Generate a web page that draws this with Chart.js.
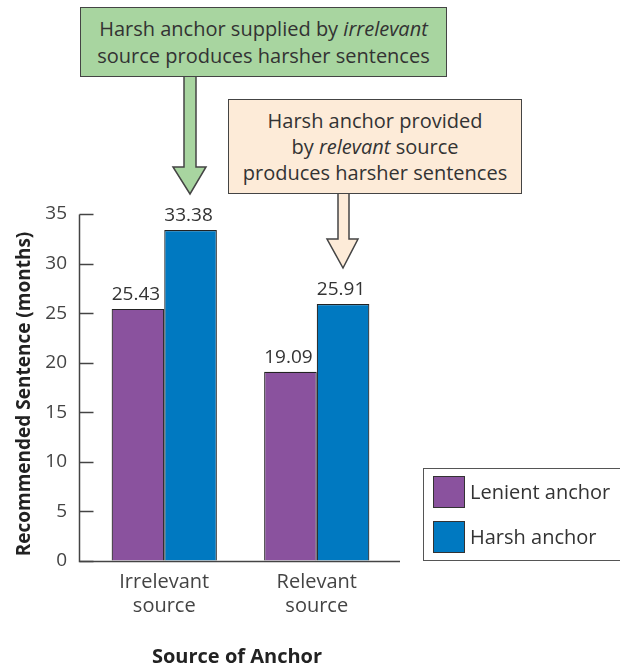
<!DOCTYPE html>
<html>
<head>
<meta charset="utf-8">
<script src="https://cdn.jsdelivr.net/npm/chart.js@4"></script>
<style>
html,body{margin:0;padding:0;background:#fff;}
#wrap{position:relative;width:620px;height:668px;overflow:hidden;font-family:"Open Sans",Lato,sans-serif;color:#333;}
canvas{position:absolute;left:0;top:0;}
.box{position:absolute;box-sizing:border-box;border:1.5px solid #444;text-align:center;font-size:20px;color:#333;white-space:nowrap;}
#legend{position:absolute;left:423px;top:468px;width:220px;height:93px;box-sizing:border-box;border:1.5px solid #555;background:#fff;}
.li{position:absolute;left:9px;height:32px;font-size:20px;line-height:32px;color:#333;white-space:nowrap;}
.sw{display:inline-block;width:32px;height:32px;box-sizing:border-box;border:1px solid #333;vertical-align:top;margin-right:5px;}
svg{position:absolute;left:0;top:0;}
</style>
</head>
<body>
<div id="wrap">
<canvas id="c" width="620" height="668"></canvas>
<svg width="620" height="668">
  <polygon points="184,76 196,76 196,167 206,167 190,194 173,167 184,167" fill="#A8D5A0" stroke="#444" stroke-width="1.5"/>
  <polygon points="338,193 349,193 349,239 358,239 343,268 327,239 338,239" fill="#FDEBD8" stroke="#444" stroke-width="1.5"/>
</svg>
<div class="box" style="left:80px;top:7px;width:367px;height:70px;background:#A8D5A0;padding-top:7px;line-height:27px;">Harsh anchor supplied by <i>irrelevant</i><br>source produces harsher sentences</div>
<div class="box" style="left:228px;top:99px;width:294px;height:95px;background:#FDEBD8;padding-top:8px;line-height:26px;">Harsh anchor provided<br>by <i>relevant</i> source<br>produces harsher sentences</div>
<div id="legend"></div>
</div>
<script>
const categories = [["Irrelevant","source"],["Relevant","source"]];
const seriesNames = ["Lenient anchor","Harsh anchor"];
const lenientValues = [25.43, 19.09];
const harshValues = [33.38, 25.91];
const seriesColors = ["#8A529E","#0079C1"];
const yTicks = [0,5,10,15,20,25,30,35];
const xTitle = "Source of Anchor";
const yTitle = "Recommended Sentence (months)";

const FONT = '"Open Sans", Lato, sans-serif';

const axesPlugin = {
  id:'axesPlugin',
  afterDraw(chart){
    const y = chart.scales.y, ctx = chart.ctx;
    const ax = 79.5, xEnd = 400;
    const y0 = Math.round(y.getPixelForValue(0))+0.5;
    const yTop = Math.round(y.getPixelForValue(35))+0.5;
    ctx.save();
    ctx.strokeStyle = '#444'; ctx.lineWidth = 1.5;
    ctx.beginPath(); ctx.moveTo(ax, yTop); ctx.lineTo(ax, y0); ctx.lineTo(xEnd, y0); ctx.stroke();
    yTicks.forEach(v=>{
      const py = Math.round(y.getPixelForValue(v))+0.5;
      ctx.beginPath(); ctx.moveTo(ax, py); ctx.lineTo(ax+14, py); ctx.stroke();
    });
    ctx.font = 'bold 20px ' + FONT; ctx.fillStyle = '#222';
    ctx.textAlign = 'center'; ctx.textBaseline = 'alphabetic';
    ctx.fillText(xTitle, 237, 663);
    ctx.save();
    ctx.translate(25, 394); ctx.rotate(-Math.PI/2);
    ctx.font = 'bold 19px ' + FONT; ctx.textBaseline = 'middle';
    ctx.fillText(yTitle, 0, 0);
    ctx.restore();
    ctx.restore();
  }
};
const valueLabels = {
  id:'valueLabels',
  afterDatasetsDraw(chart){
    const ctx = chart.ctx;
    ctx.save();
    ctx.font = '19px ' + FONT; ctx.fillStyle = '#333';
    ctx.textAlign = 'center'; ctx.textBaseline = 'alphabetic';
    chart.data.datasets.forEach((ds,i)=>{
      chart.getDatasetMeta(i).data.forEach((bar,j)=>{
        ctx.fillText(ds.data[j].toFixed(2), bar.x - 2, bar.y - 9);
      });
    });
    ctx.restore();
  }
};

const chart = new Chart(document.getElementById('c'), {
  type:'bar',
  data:{
    labels: categories,
    datasets:[
      {label:seriesNames[0], data:lenientValues, backgroundColor:seriesColors[0], borderColor:'#222', borderWidth:1.2, borderSkipped:'bottom'},
      {label:seriesNames[1], data:harshValues, backgroundColor:seriesColors[1], borderColor:'#222', borderWidth:1.2, borderSkipped:'bottom'}
    ]
  },
  options:{
    responsive:false, animation:false,
    layout:{padding:{top:214, right:227, left:0, bottom:0}},
    plugins:{legend:{display:false}, tooltip:{enabled:false}},
    datasets:{bar:{categoryPercentage:0.69, barPercentage:1.0}},
    scales:{
      x:{
        grid:{display:false, drawTicks:false},
        border:{display:false},
        ticks:{color:'#444', font:{family:FONT, size:20, lineHeight:1.2}, padding:9, maxRotation:0},
        afterFit(s){ s.height = 107; }
      },
      y:{
        min:0, max:35,
        afterBuildTicks(s){ s.ticks = yTicks.map(v=>({value:v})); },
        grid:{drawOnChartArea:false, drawTicks:false},
        border:{display:false},
        ticks:{color:'#444', font:{family:FONT, size:19}, padding:21},
        afterFit(s){ s.width = 88; }
      }
    }
  },
  plugins:[axesPlugin, valueLabels]
});

const lg = document.getElementById('legend');
chart.data.datasets.forEach((ds,i)=>{
  const d = document.createElement('div');
  d.className='li'; d.style.top = (7 + i*45) + 'px';
  d.innerHTML = '<span class="sw" style="background:'+ds.backgroundColor+'"></span>'+ds.label;
  lg.appendChild(d);
});
</script>
</body>
</html>
